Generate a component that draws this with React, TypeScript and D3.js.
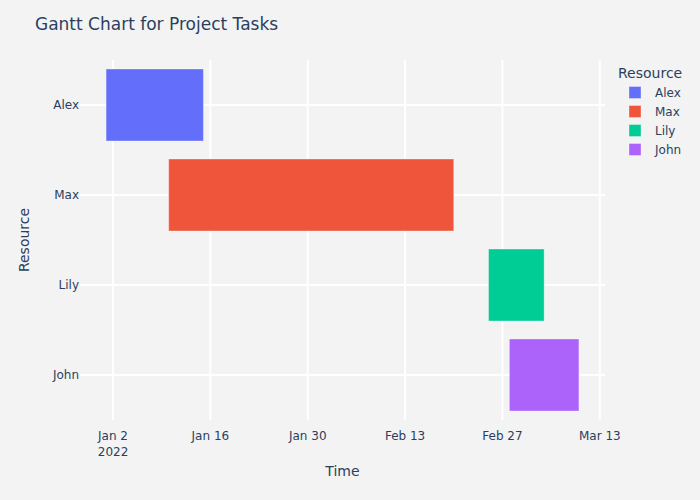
import React from "react";
import * as d3 from "d3";

const svgWidth = 700;
const svgHeight = 500;
const margin = { top: 60, right: 95, bottom: 80, left: 80 };
const innerWidth = svgWidth - margin.left - margin.right;
const innerHeight = svgHeight - margin.top - margin.bottom;

// task data
const resources = ["Alex", "Max", "Lily", "John"];
const starts = ["2022-01-01", "2022-01-10", "2022-02-25", "2022-02-28"];
const finishes = ["2022-01-15", "2022-02-20", "2022-03-05", "2022-03-10"];
const colors = ["#636efa", "#EF553B", "#00cc96", "#ab63fa"];
const tickDates = ["2022-01-02", "2022-01-16", "2022-01-30", "2022-02-13", "2022-02-27", "2022-03-13"];

const parse = d3.timeParse("%Y-%m-%d");
const textColor = "#2a3f5f";
const bg = "#f3f3f3";
const font = "'DejaVu Sans', 'Open Sans', sans-serif";

const App = () => {
  const xScale = d3
    .scaleTime()
    .domain([new Date(2021, 11, 28, 6), new Date(2022, 2, 13, 18)])
    .range([0, innerWidth]);
  const yScale = d3
    .scaleBand()
    .domain(resources)
    .range([0, innerHeight])
    .paddingInner(0.2)
    .paddingOuter(0.1);
  const ticks = tickDates.map((t) => parse(t) as Date);
  const fmt = d3.timeFormat("%b %-d");

  return (
    <svg
      width={svgWidth}
      height={svgHeight}
      style={{ position: "absolute", left: 0, top: 0, background: bg, fontFamily: font }}
    >
      <rect width={svgWidth} height={svgHeight} fill={bg} />
      <text x={35} y={30} fontSize={17} fill={textColor}>
        Gantt Chart for Project Tasks
      </text>
      <g transform={`translate(${margin.left},${margin.top})`}>
        {ticks.map((t, i) => (
          <line key={"gx" + i} x1={xScale(t)} x2={xScale(t)} y1={0} y2={innerHeight} stroke="#fff" strokeWidth={2} />
        ))}
        {resources.map((r) => (
          <line
            key={"gy" + r}
            x1={0}
            x2={innerWidth}
            y1={(yScale(r) as number) + yScale.bandwidth() / 2}
            y2={(yScale(r) as number) + yScale.bandwidth() / 2}
            stroke="#fff"
            strokeWidth={2}
          />
        ))}
        {resources.map((r, i) => {
          const x0 = xScale(parse(starts[i]) as Date);
          const x1 = xScale(parse(finishes[i]) as Date);
          return (
            <rect
              key={"bar" + r}
              x={x0}
              y={yScale(r)}
              width={x1 - x0}
              height={yScale.bandwidth()}
              fill={colors[i]}
              stroke="rgba(255,255,255,0.35)"
              strokeWidth={1}
            >
              <title>{r}</title>
            </rect>
          );
        })}
        {resources.map((r) => (
          <text
            key={"yl" + r}
            x={-1}
            y={(yScale(r) as number) + yScale.bandwidth() / 2}
            dy="0.35em"
            textAnchor="end"
            fontSize={12}
            fill={textColor}
          >
            {r}
          </text>
        ))}
        {ticks.map((t, i) => (
          <g key={"xl" + i} transform={`translate(${xScale(t)},${innerHeight})`}>
            <text y={16} dy="0.35em" textAnchor="middle" fontSize={12} fill={textColor}>
              {fmt(t)}
            </text>
            {i === 0 && (
              <text y={32} dy="0.35em" textAnchor="middle" fontSize={12} fill={textColor}>
                {d3.timeFormat("%Y")(t)}
              </text>
            )}
          </g>
        ))}
        <text x={innerWidth / 2} y={innerHeight + 56} textAnchor="middle" fontSize={14} fill={textColor}>
          Time
        </text>
        <text
          transform={`translate(${-51},${innerHeight / 2}) rotate(-90)`}
          textAnchor="middle"
          fontSize={14}
          fill={textColor}
        >
          Resource
        </text>
      </g>
      <g transform="translate(618,0)">
        <text x={0} y={78} fontSize={14} fill={textColor}>
          Resource
        </text>
        {resources.map((r, i) => (
          <g key={"lg" + r} transform={`translate(0,${92.5 + i * 19})`}>
            <rect x={11} y={-6} width={12} height={12} fill={colors[i]} stroke="rgba(255,255,255,0.35)" />
            <text x={37} dy="0.35em" fontSize={12} fill={textColor}>
              {r}
            </text>
          </g>
        ))}
      </g>
    </svg>
  );
};

export default App;
